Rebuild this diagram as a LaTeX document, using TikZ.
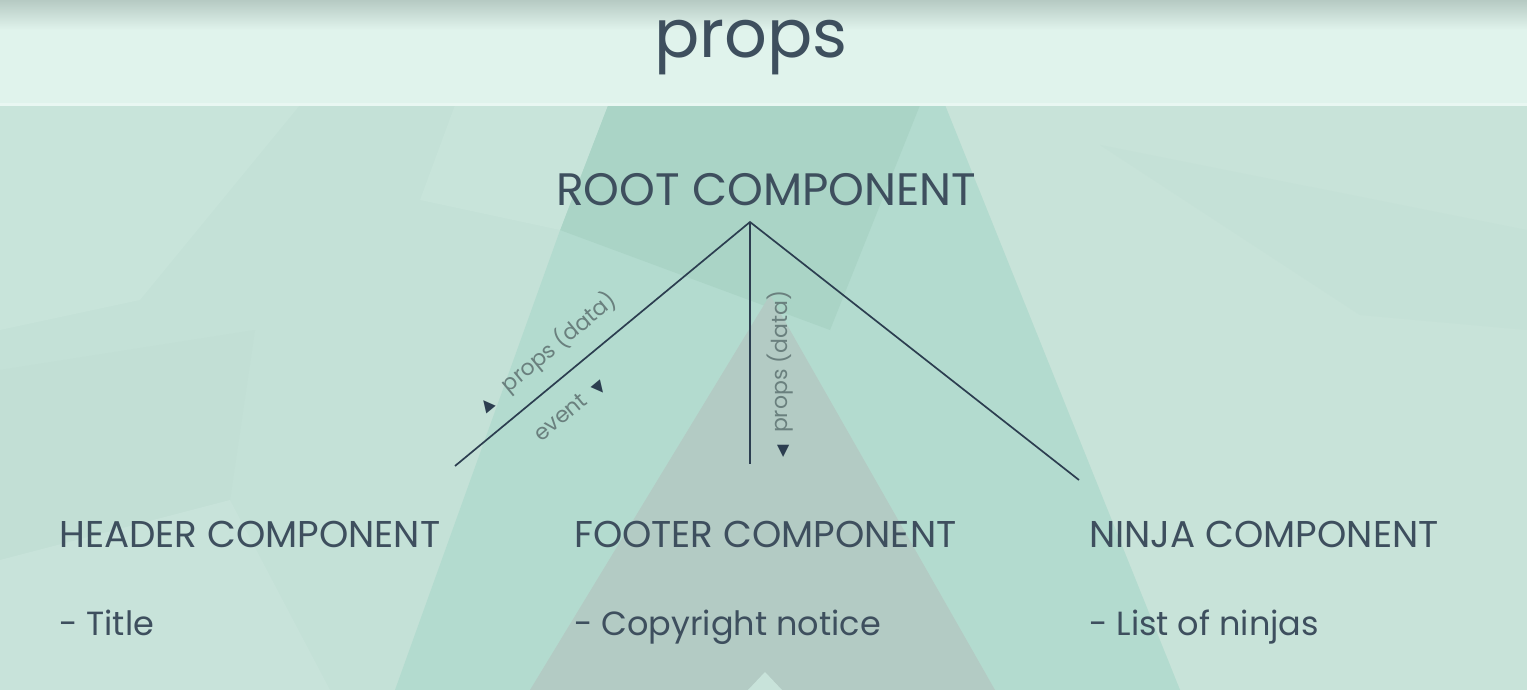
\documentclass[tikz,border=0pt]{standalone}
\usepackage{fontspec}
\setmainfont{Poppins}
\newfontfamily\symfont{DejaVu Sans}
\newcommand\trimark[1]{{\symfont\fontsize{16}{18}\selectfont\textcolor{lineink}{#1}}}
\definecolor{ink}{HTML}{3E4F5E}
\definecolor{lineink}{HTML}{2C3E50}
\definecolor{lbl}{HTML}{6A807E}
\definecolor{hdr}{HTML}{E0F3EC}
\definecolor{hdrshade}{HTML}{B6CAC3}
\definecolor{bgbase}{HTML}{C4E1D7}
\definecolor{bglight}{HTML}{C8E4DA}
\definecolor{bglight2}{HTML}{C8E3DA}
\definecolor{bgmid}{HTML}{C2DFD5}
\definecolor{tent}{HTML}{B3DBCF}
\definecolor{tenttop}{HTML}{AAD4C6}
\definecolor{graytri}{HTML}{B3CBC4}
\definecolor{rightbg}{HTML}{C8E3D9}
\definecolor{rightmid}{HTML}{C5E1D7}
\tikzset{
  comp/.style={anchor=base west, inner sep=0pt, text=ink, font=\fontsize{37.3}{40}\selectfont},
  item/.style={anchor=base west, inner sep=0pt, text=ink, font=\fontsize{33.5}{38}\selectfont},
  edgelbl/.style={inner sep=0pt, text=lbl, font=\fontsize{22}{24}\selectfont},
  conn/.style={draw=lineink, line width=1.7pt}
}
\begin{document}
\begin{tikzpicture}[x=1pt,y=-1pt]
\useasboundingbox (0,0) rectangle (1527,690);
% background
\fill[bgbase] (0,105) rectangle (1527,690);
\fill[bglight] (0,105) -- (300,105) -- (140,300) -- (0,330) -- cycle;
\fill[bgmid] (0,370) -- (255,330) -- (230,500) -- (0,560) -- cycle;
\fill[bglight2] (0,560) -- (230,500) -- (330,690) -- (0,690) -- cycle;
\fill[rightbg] (945,105) -- (1527,105) -- (1527,690) -- (1180,690) -- cycle;
\fill[rightmid] (1100,145) -- (1527,230) -- (1527,330) -- (1360,315) -- cycle;
\fill[tent] (605,105) -- (945,105) -- (1180,690) -- (395,690) -- cycle;
\fill[tenttop] (608,105) -- (920,105) -- (830,330) -- (560,230) -- cycle;
\fill[bglight] (455,105) -- (608,105) -- (560,230) -- (420,200) -- cycle;
\fill[graytri] (770,295) -- (995,690) -- (530,690) -- cycle;
\fill[bglight2] (748,690) -- (765,672) -- (782,690) -- cycle;
% header bar
\fill[hdr] (0,0) rectangle (1527,105);
\shade[top color=hdrshade, bottom color=hdr] (0,0) rectangle (1527,30);
\fill[hdr!70!white] (0,103) rectangle (1527,106);
% title
\node[anchor=base, inner sep=0pt, text=ink, font=\fontsize{67}{72}\selectfont] (title) at (751,58) {props};
% nodes
\node[anchor=base west, inner sep=0pt, text=ink, font=\fontsize{45.5}{48}\selectfont] (root) at (556,205) {ROOT COMPONENT};
\node[comp] (header) at (59,547) {HEADER COMPONENT};
\node[comp] (footer) at (574,547) {FOOTER COMPONENT};
\node[comp] (ninja) at (1089,547) {NINJA COMPONENT};
\node[item] (headeritem) at (59,635) {- Title};
\node[item] (footeritem) at (574,635) {- Copyright notice};
\node[item] (ninjaitem) at (1089,635) {- List of ninjas};
% connectors
\coordinate (apex) at (750,222);
\coordinate (hEnd) at (455,466);
\coordinate (fEnd) at (750,464);
\coordinate (nEnd) at (1079,480);
\draw[conn] (hEnd) -- (apex) -- (nEnd);
\draw[conn, line width=1.3pt] (apex) -- (fEnd);
% edge labels
\node[edgelbl, rotate=39.6] (lblA) at (547,352) {\trimark{▲}\ \ \ props (data)};
\node[edgelbl, rotate=39.6] (lblB) at (570,410) {event\ \ \trimark{▼}};
\node[edgelbl, rotate=90] (lblC) at (780,374) {\trimark{◀}\ \ props (data)};
\end{tikzpicture}
\end{document}
